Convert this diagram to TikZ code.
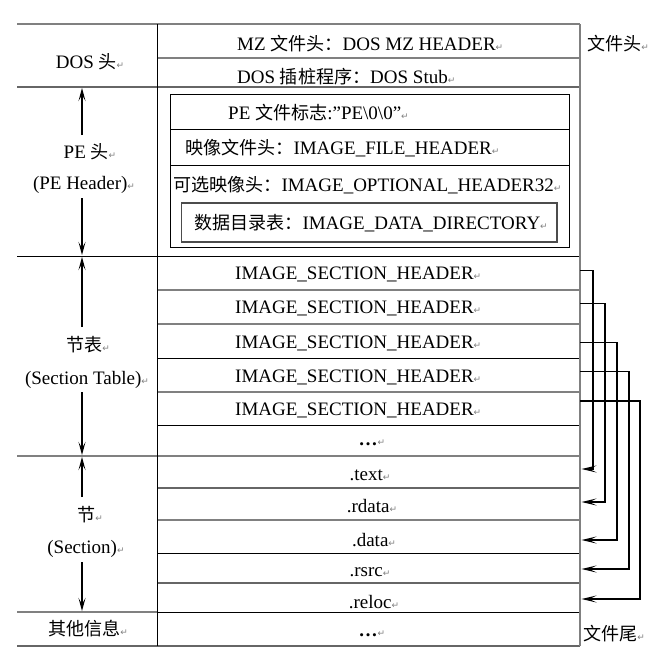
\documentclass[tikz,border=0pt]{standalone}
\usepackage{fontspec}
\setmainfont{Liberation Serif}
\newfontfamily\cjk{Noto Sans CJK SC}[Scale=0.95]
\newfontfamily\symf{DejaVu Sans}
\usetikzlibrary{arrows.meta}
\newcommand{\zh}[1]{{\cjk #1}}
\newcommand{\parmk}{{\symf\fontsize{9}{9}\selectfont\color{gray}↵}}
\begin{document}
\begin{tikzpicture}[x=1pt,y=-1pt,
  font=\fontsize{19}{22}\selectfont,
  gl/.style={draw=gray, line width=2pt},
  gt/.style={draw=gray!80!black, line width=1.3pt},
  bl/.style={draw=black, line width=1pt},
  txt/.style={inner sep=0pt, anchor=west, yshift=-1.5pt},
  ctxt/.style={inner sep=0pt, yshift=-1.5pt},
  larr/.style={-{Stealth[length=13pt,width=7pt,inset=6pt]}, line width=1.1pt},
  conn/.style={-{Stealth[length=15pt,width=7pt,inset=7pt]}, line width=1.3pt}
]
\useasboundingbox (0,0) rectangle (671,654);

% ---------- table lines ----------
\draw[gl] (17,24) -- (580,24);
\draw[gl] (157,58) -- (580,58);
\draw[gt] (17,87) -- (580,87);
\draw[bl] (17,256) -- (580,256);
\draw[gl] (157,290) -- (580,290);
\draw[gl] (157,324) -- (580,324);
\draw[bl] (157,358) -- (580,358);
\draw[gl] (157,392) -- (580,392);
\draw[bl] (157,425) -- (580,425);
\draw[gl] (17,456) -- (580,456);
\draw[gt] (157,488) -- (580,488);
\draw[gl] (157,520) -- (580,520);
\draw[bl] (157,553) -- (580,553);
\draw[gt] (157,583) -- (580,583);
\draw[gl] (17,612) -- (157,612);
\draw[bl] (157,612) -- (580,612);
\draw[gt] (17,646) -- (580,646);
\draw[bl] (157,24) -- (157,646);
\draw[gl] (580,24) -- (580,646);

% PE header inner boxes
\draw[bl] (170,94) rectangle (569,247);
\draw[bl] (170,129.5) -- (569,129.5);
\draw[bl] (170,165.5) -- (569,165.5);
\draw[draw=gray!60!black, line width=1.3pt] (181.5,203) rectangle (557,242);

% ---------- main column texts ----------
\node[txt] (mz) at (237,42) {MZ \zh{文件头：}DOS MZ HEADER\parmk};
\node[txt] (stub) at (237,75) {DOS \zh{插桩程序：}DOS Stub\parmk};
\node[txt] (sig) at (228,111) {PE \zh{文件标志}:”PE\textbackslash0\textbackslash0”\parmk};
\node[txt] (fh) at (185,147) {\zh{映像文件头：}IMAGE\_FILE\_HEADER\parmk};
\node[txt] (oh) at (173,184) {\zh{可选映像头：}IMAGE\_OPTIONAL\_HEADER32\parmk};
\node[txt] (dd) at (194,222) {\zh{数据目录表：}IMAGE\_DATA\_DIRECTORY\parmk};

\node[txt] (sh1) at (235,273) {IMAGE\_SECTION\_HEADER\parmk};
\node[txt] (sh2) at (235,307) {IMAGE\_SECTION\_HEADER\parmk};
\node[txt] (sh3) at (235,342) {IMAGE\_SECTION\_HEADER\parmk};
\node[txt] (sh4) at (235,376) {IMAGE\_SECTION\_HEADER\parmk};
\node[txt] (sh5) at (235,409) {IMAGE\_SECTION\_HEADER\parmk};
\node[ctxt] (shdots) at (372,441) {\textbf{…}\parmk};

\node[ctxt] (stext) at (370,474) {.text\parmk};
\node[ctxt] (srdata) at (372,505) {.rdata\parmk};
\node[ctxt] (sdata) at (374,539) {.data\parmk};
\node[ctxt] (srsrc) at (370,571) {.rsrc\parmk};
\node[ctxt] (sreloc) at (374,601) {.reloc\parmk};
\node[ctxt] (edots) at (372,632) {\textbf{…}\parmk};

% ---------- right labels ----------
\node[txt] (fhead) at (587,42) {\zh{文件头}\parmk};
\node[txt] (ftail) at (583,632) {\zh{文件尾}\parmk};

% ---------- left column ----------
\node[ctxt] (dos) at (90,60) {DOS \zh{头}\parmk};
\node[ctxt] (pe1) at (90,150) {PE \zh{头}\parmk};
\node[ctxt] (pe2) at (84,183) {(PE Header)\parmk};
\node[ctxt] (st1) at (88,343) {\zh{节表}\parmk};
\node[ctxt] (st2) at (87,378) {(Section Table)\parmk};
\node[ctxt] (se1) at (90,513) {\zh{节}\parmk};
\node[ctxt] (se2) at (86,547) {(Section)\parmk};
\node[ctxt] (other) at (88,627) {\zh{其他信息}\parmk};

\coordinate (a1s) at (82,135); \coordinate (a1e) at (82,88);
\coordinate (a2s) at (82,198); \coordinate (a2e) at (82,255);
\coordinate (a3s) at (82,327); \coordinate (a3e) at (82,257);
\coordinate (a4s) at (82,392); \coordinate (a4e) at (82,455);
\coordinate (a5s) at (82,497); \coordinate (a5e) at (82,457);
\coordinate (a6s) at (82,562); \coordinate (a6e) at (82,611);
\draw[larr] (a1s) -- (a1e);
\draw[larr] (a2s) -- (a2e);
\draw[larr] (a3s) -- (a3e);
\draw[larr] (a4s) -- (a4e);
\draw[larr] (a5s) -- (a5e);
\draw[larr] (a6s) -- (a6e);

% ---------- right connectors ----------
\coordinate (h1) at (580,270.7); \coordinate (t1) at (581.5,469);
\coordinate (h2) at (580,303.3); \coordinate (t2) at (581.5,502);
\coordinate (h3) at (580,342.7); \coordinate (t3) at (581.5,540);
\coordinate (h4) at (580,371.7); \coordinate (t4) at (581.5,569);
\coordinate (h5) at (580,401);   \coordinate (t5) at (581.5,599);
\draw[conn] (h1) -- ++(13,0) |- (t1);
\draw[conn] (h2) -- ++(25,0) |- (t2);
\draw[conn] (h3) -- ++(37,0) |- (t3);
\draw[conn] (h4) -- ++(49,0) |- (t4);
\draw[conn] (h5) -- ++(60,0) |- (t5);
\end{tikzpicture}
\end{document}
